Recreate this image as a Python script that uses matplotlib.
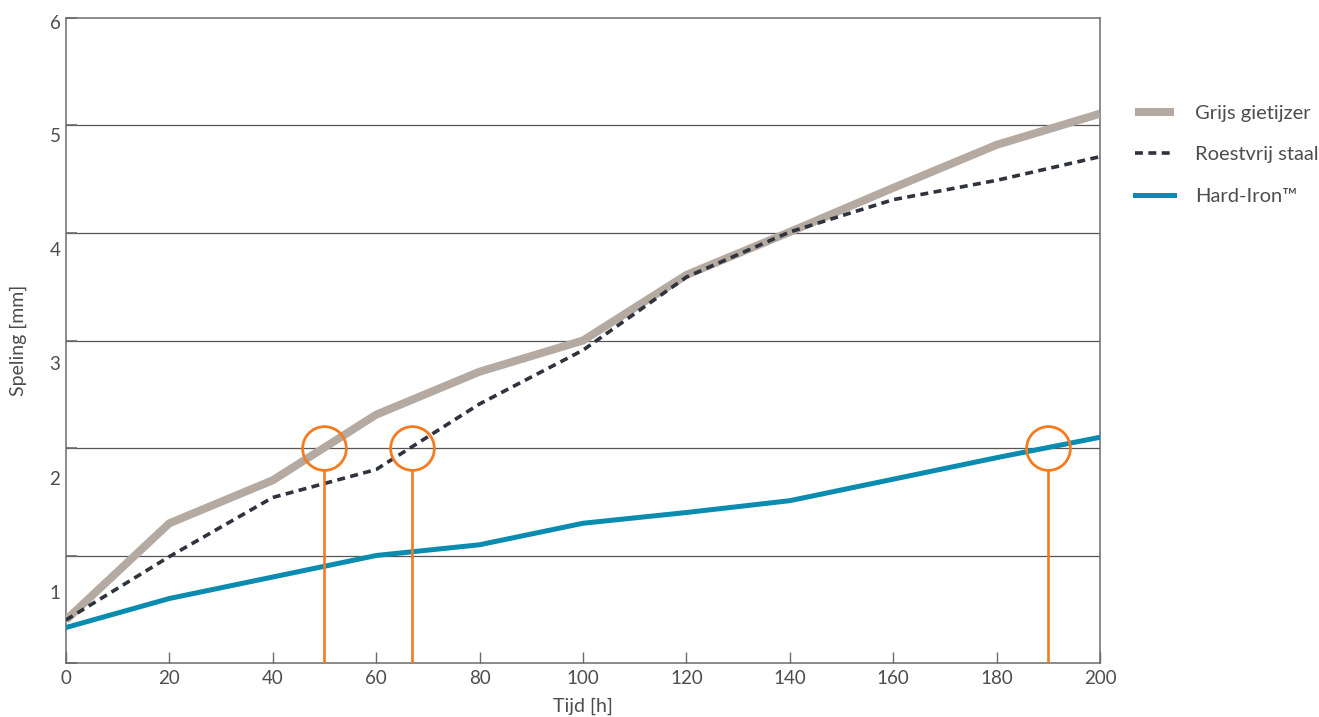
import matplotlib.pyplot as plt
import numpy as np

hours = [0, 20, 40, 60, 80, 100, 120, 140, 160, 180, 200]
grijs = [0.40, 1.30, 1.70, 2.31, 2.71, 3.00, 3.61, 4.01, 4.42, 4.82, 5.11]
staal = [0.40, 0.99, 1.54, 1.80, 2.41, 2.91, 3.59, 4.01, 4.31, 4.49, 4.71]
hard_iron = [0.33, 0.60, 0.80, 1.00, 1.10, 1.30, 1.40, 1.51, 1.71, 1.91, 2.10]

# points where each material reaches 2 mm
mark_x = [50, 67, 190]
mark_y = 2.0

y_labels = ['1', '2', '3', '4', '5', '6']
y_label_pos = [0.66, 1.72, 2.79, 3.85, 4.91, 5.96]

plt.rcParams['font.family'] = ['Lato', 'DejaVu Sans']
text_col = '#4d4d4d'
spine_col = '#6b6b6b'

fig = plt.figure(figsize=(13.19, 7.17), dpi=100)
ax = fig.add_axes([0.050, 0.0753, 0.784, 0.8996])

ax.plot(hours, grijs, color='#b5aaa1', lw=5.8, label='Grijs gietijzer', solid_capstyle='butt', zorder=3)
ax.plot(hours, staal, color='#2f333d', lw=2.6, ls=(0, (2.2, 1.5)), label='Roestvrij staal', zorder=4)
ax.plot(hours, hard_iron, color='#0a8cb0', lw=3.6, label='Hard-Iron\u2122', zorder=3)

orange = '#f47b20'
for mx in mark_x:
    ax.plot([mx, mx], [0, mark_y - 0.2], color=orange, lw=1.9, zorder=5)
    ax.plot(mx, mark_y, marker='o', ms=31.5, mfc='none', mec=orange, mew=2.0, zorder=5)

ax.set_xlim(0, 200)
ax.set_ylim(0, 6)

for v in [1, 2, 3, 4, 5]:
    ax.axhline(v, color='#555555', lw=0.9, zorder=1)

ax.set_xticks(np.arange(0, 201, 20))
ax.set_yticks(range(0, 7))
ax.set_yticklabels([])
ax.set_yticks(y_label_pos, y_labels, minor=True)
ax.tick_params(axis='x', direction='in', length=8, width=1, color=spine_col,
               labelsize=13.5, labelcolor=text_col, pad=5)
ax.tick_params(axis='y', which='major', direction='in', length=8, width=1.2, color=spine_col)
ax.tick_params(axis='y', which='minor', length=0, labelsize=13.5, labelcolor=text_col, pad=4)

for s in ax.spines.values():
    s.set_color(spine_col)
    s.set_linewidth(1.1)

ax.set_xlabel('Tijd [h]', fontsize=14, color=text_col, labelpad=8)
ax.set_ylabel('Speling [mm]', fontsize=14, color=text_col, labelpad=16)

leg = ax.legend(loc='upper left', bbox_to_anchor=(1.0166, 0.893), frameon=False,
                fontsize=14.5, handlelength=1.9, handletextpad=1.05, labelspacing=1.2,
                labelcolor=text_col)

fig.savefig('out.png', dpi=100)
